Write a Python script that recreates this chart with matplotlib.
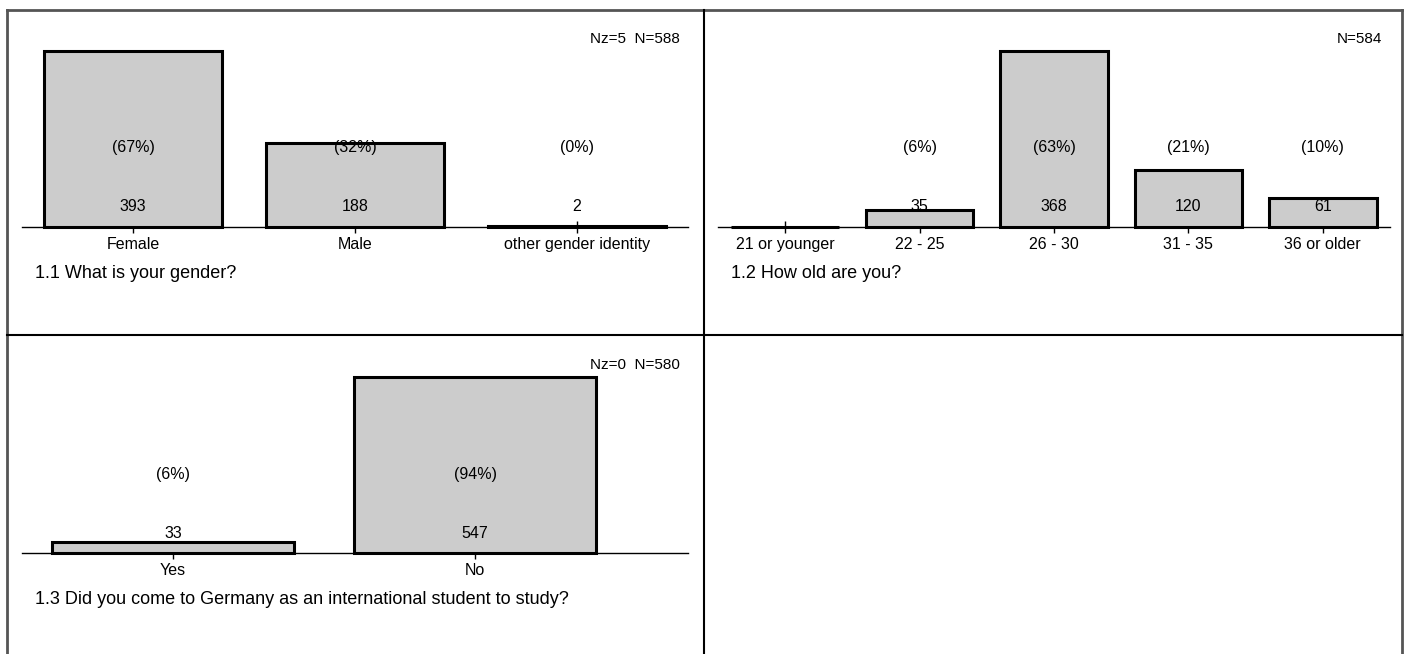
import matplotlib
matplotlib.use('Agg')
import matplotlib.pyplot as plt
from matplotlib.lines import Line2D

plt.rcParams['font.family'] = ['Liberation Sans', 'DejaVu Sans']

W, H = 1406, 654
BAR_FILL = "#cccccc"
FRAME = "#555555"

# --- data ---
gender_labels = ["Female", "Male", "other gender identity"]
gender_counts = [393, 188, 2]
gender_title = "1.1 What is your gender?"
gender_note = "Nz=5  N=588"
gender_n = 588

age_labels = ["21 or younger", "22 - 25", "26 - 30", "31 - 35", "36 or older"]
age_counts = [0, 35, 368, 120, 61]
age_title = "1.2 How old are you?"
age_note = "N=584"
age_n = 584

intl_labels = ["Yes", "No"]
intl_counts = [33, 547]
intl_title = "1.3 Did you come to Germany as an international student to study?"
intl_note = "Nz=0  N=580"
intl_n = 580


def px_axes(fig, left, top, right, bottom):
    return fig.add_axes([left / W, 1 - bottom / H, (right - left) / W, (bottom - top) / H])


def draw_panel(ax, labels, counts, n, title, note, xmax):
    x = list(range(len(labels)))
    bars = ax.bar(x, counts, width=0.8, color=BAR_FILL, edgecolor="black",
                  linewidth=2.2, zorder=3)
    for b in bars:
        b.set_clip_on(False)
    base = ax.axhline(0, color="black", linewidth=1, zorder=2)
    base.set_clip_on(False)
    ax.set_xlim(-0.5, xmax)
    ax.set_ylim(0, max(counts))
    for s in ax.spines.values():
        s.set_visible(False)
    ax.patch.set_alpha(0)
    ax.set_yticks([])
    ax.set_xticks(x)
    ax.set_xticklabels(labels, fontsize=11.5)
    ax.tick_params(axis="x", direction="inout", length=9, width=1,
                   color="black", pad=2.5)
    for i, c in enumerate(counts):
        if c == 0:
            continue
        ax.annotate(str(c), xy=(i, 0), xytext=(0, 20), textcoords="offset pixels",
                    ha="center", va="center", fontsize=11.5, zorder=5)
        ax.annotate(f"({round(c / n * 100)}%)", xy=(i, 0), xytext=(0, 79),
                    textcoords="offset pixels", ha="center", va="center",
                    fontsize=11.5, zorder=5)
    ax.annotate(title, xy=(0, 0), xycoords="axes fraction", xytext=(13, -47),
                textcoords="offset pixels", ha="left", va="center", fontsize=13)
    ax.annotate(note, xy=(1, 1), xycoords="axes fraction", xytext=(-8, 12),
                textcoords="offset pixels", ha="right", va="center", fontsize=11)


fig = plt.figure(figsize=(W / 100, H / 100), dpi=100)
fig.patch.set_facecolor("white")

ax1 = px_axes(fig, 22, 51, 688, 227)
draw_panel(ax1, gender_labels, gender_counts, gender_n, gender_title, gender_note, 2.5)

ax2 = px_axes(fig, 718, 51, 1390, 227)
draw_panel(ax2, age_labels, age_counts, age_n, age_title, age_note, 4.5)

ax3 = px_axes(fig, 22, 377, 688, 553)
draw_panel(ax3, intl_labels, intl_counts, intl_n, intl_title, intl_note, 1.705)

# panel frame
def fig_line(xs, ys, color, lw):
    fig.add_artist(Line2D([v / W for v in xs], [1 - v / H for v in ys],
                          color=color, linewidth=lw, transform=fig.transFigure))

fig_line([7, 1402], [10, 10], FRAME, 2)
fig_line([7, 7], [10, H], FRAME, 2)
fig_line([1402, 1402], [10, H], FRAME, 2)
fig_line([704, 704], [10, H], "black", 1.5)
fig_line([7, 1402], [335, 335], "black", 1.5)

fig.savefig("out.png", dpi=100, facecolor="white")
plt.close(fig)
